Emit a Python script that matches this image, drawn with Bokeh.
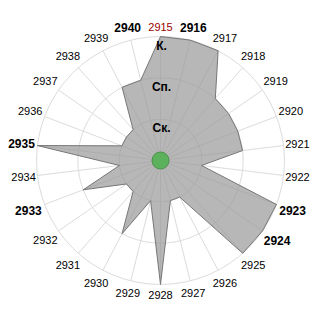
import math
from bokeh.plotting import figure
from bokeh.models import ColumnDataSource
from bokeh.core.properties import value
from bokeh.embed import file_html
from bokeh.resources import INLINE

categories = ["2915", "2916", "2917", "2918", "2919", "2920", "2921", "2922", "2923",
              "2924", "2925", "2926", "2927", "2928", "2929", "2930", "2931", "2932",
              "2933", "2934", "2935", "2936", "2937", "2938", "2939", "2940"]
values = [3, 3, 3, 2, 2, 2, 2, 1, 3, 3, 3, 1, 1, 3, 1, 2, 1, 1, 2, 1, 3, 1, 1, 1, 2, 2]
bold = ["2916", "2923", "2924", "2933", "2935", "2940"]
highlight = "2915"
ring_values = [1, 2, 3]
ring_labels = ["Ск.", "Сп.", "К."]

unit = 124 / 3.0          # pixels per value unit
half = 160 / unit         # half-extent of the plot in value units

p = figure(width=320, height=320, output_backend="svg", toolbar_location=None,
           x_range=(-half, half), y_range=(-half, half), min_border=0)
p.axis.visible = False
p.grid.visible = False
p.outline_line_color = None
p.background_fill_color = "white"
p.border_fill_color = "white"

n = len(categories)
angles = [math.pi / 2 - 2 * math.pi * i / n for i in range(n)]
vmax = max(ring_values)

# grid rings
for r in ring_values:
    p.circle(x=0, y=0, radius=r, fill_color=None, line_color="#dcdcdc", line_width=1)

# spokes
p.segment(x0=[0] * n, y0=[0] * n,
          x1=[vmax * math.cos(a) for a in angles],
          y1=[vmax * math.sin(a) for a in angles],
          line_color="#dcdcdc", line_width=1)

# data polygon
xs = [v * math.cos(a) for v, a in zip(values, angles)]
ys = [v * math.sin(a) for v, a in zip(values, angles)]
p.patch(xs, ys, fill_color="#999999", fill_alpha=0.7, line_color="#777777", line_width=1)

# center marker
p.circle(x=0, y=0, radius=8.5, radius_units="screen", fill_color="#5cb25c",
         line_color="#4a904a", line_width=1)

# category labels
lx, ly, fs, fst, fc = [], [], [], [], []
for c, a in zip(categories, angles):
    b = c in bold
    w = 28 if b else 24
    rpx = 125 + abs(math.cos(a)) * w / 2 + abs(math.sin(a)) * 9
    lx.append(rpx * math.cos(a) / unit)
    ly.append(rpx * math.sin(a) / unit)
    fs.append("12px" if b else "11px")
    fst.append("bold" if b else "normal")
    fc.append("#990000" if c == highlight else "#000000")
src = ColumnDataSource(dict(x=lx, y=ly, t=categories, fs=fs, fst=fst, fc=fc))
p.text(x="x", y="y", text="t", source=src, text_font=value("Liberation Sans"),
       text_font_size="fs", text_font_style="fst", text_color="fc",
       text_align="center", text_baseline="middle")

# ring labels
p.text(x=[1 / unit] * len(ring_values), y=[r - 9 / unit for r in ring_values],
       text=ring_labels, text_font=value("Liberation Sans"), text_font_size="12px",
       text_font_style="bold", text_color="#000000",
       text_align="center", text_baseline="middle")

open("out.html", "w").write(file_html(p, INLINE))
